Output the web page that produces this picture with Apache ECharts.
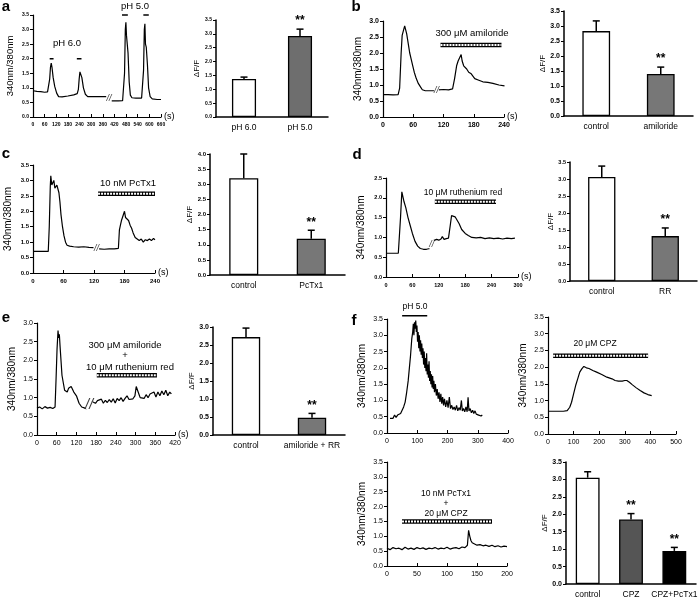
<!DOCTYPE html>
<html><head><meta charset="utf-8">
<script src="https://cdn.jsdelivr.net/npm/echarts@6/dist/echarts.min.js"></script>
<style>html,body{margin:0;padding:0;background:#fff}#c{width:700px;height:608px}</style>
</head><body><div id="c"></div>
<script>
// ---------- DATA ----------
// panel a trace
const aT1 = [0,20,40,60,75,82,86,90,94,98,104,112,122,132,150,180,210,228,234,238,242,246,252,260,270,282,300,330,360,378];
const aV1 = [0.9,0.88,0.87,0.85,0.86,0.9,1.3,1.7,1.85,1.7,1.35,1.05,0.82,0.7,0.69,0.72,0.76,0.8,0.95,1.3,1.55,1.6,1.35,1.0,0.78,0.7,0.7,0.7,0.7,0.7];
const aT2 = [405,420,440,462,468,472,476,479,482,486,490,496,502,510,530,560,566,570,574,577,580,584,590,596,604,615,640,660];
const aV2 = [0.55,0.55,0.55,0.56,0.58,1.5,3.0,3.25,2.8,2.75,2.2,1.2,0.75,0.66,0.65,0.65,0.66,1.6,3.0,3.2,2.5,2.4,1.8,1.0,0.7,0.62,0.6,0.6];
const aStim6 = [[86,106],[226,250]];
const aStim5 = [[459,489],[569,597]];
// panel b trace
const bT1 = [0,10,20,30,33,36,38,40,43,45,47,49,51,53,56,59,62,66,70,74,78,84,90,96,102];
const bV1 = [0.7,0.7,0.69,0.7,0.9,2.0,2.55,2.6,2.85,2.8,2.6,2.55,2.2,2.0,1.8,1.6,1.4,1.2,1.05,0.95,0.85,0.82,0.82,0.82,0.82];
const bT2 = [110,120,130,138,142,146,149,152,155,157,160,163,166,170,175,182,190,198,208,218,230,241];
const bV2 = [0.85,0.86,0.85,0.88,1.2,1.6,1.75,1.8,1.95,1.75,1.6,1.55,1.5,1.4,1.35,1.2,1.15,1.1,1.08,1.05,1.0,0.97];
const bStim = [114,235];
// panel c trace
const cT1 = [0,10,20,30,32,34,35,37,39,41,43,45,47,49,51,53,55,58,61,64,67,72,80,90,100,110,119];
const cV1 = [0.7,0.7,0.7,0.7,1.5,2.8,3.15,2.85,2.8,3.0,2.75,2.7,2.85,2.9,2.6,2.3,1.9,1.5,1.2,1.0,0.9,0.87,0.85,0.84,0.85,0.83,0.82];
const cT2 = [130,140,150,160,168,170,172,174,176,178,180,182,185,188,191,194,197,201,205,209,213,217,221,225,229,233,237,240];
const cV2 = [0.78,0.77,0.78,0.78,0.8,1.4,1.55,1.7,1.8,1.75,2.0,1.8,1.8,1.7,1.55,1.45,1.3,1.15,1.1,1.05,1.1,1.0,1.08,1.05,1.1,1.05,1.12,1.08];
const cStim = [128,240];
// panel d trace
const dT1 = [0,10,20,28,30,33,36,38,41,45,50,55,60,66,72,78,85,92,100];
const dV1 = [0.6,0.6,0.6,0.6,0.62,1.5,2.15,2.05,1.9,1.75,1.5,1.3,1.1,0.9,0.78,0.72,0.7,0.7,0.72];
const dT2 = [108,115,120,125,128,132,137,142,146,149,153,157,161,166,172,180,187,195,205,215,225,235,245,255,265,275,285,293];
const dV2 = [0.92,0.95,0.93,0.96,1.02,0.95,0.97,0.98,1.3,1.55,1.53,1.52,1.48,1.35,1.2,1.1,1.05,1.0,0.99,1.0,0.97,0.99,0.97,0.98,0.96,0.98,0.97,0.98];
const dStim = [111,250];
// panel e trace
const eT1 = [0,8,16,24,32,40,48,55,58,61,64,66,68,70,73,76,80,84,88,92,96,100,104,108,112,116,120,124,128,132,136,140,146,152];
const eV1 = [0.72,0.75,0.7,0.76,0.72,0.74,0.71,0.75,1.5,2.3,2.8,2.6,2.7,2.4,2.0,1.6,1.4,1.2,1.25,1.15,1.25,1.2,1.3,1.25,1.15,1.2,1.05,0.95,0.85,0.8,0.75,0.8,0.72,0.68];
const eT2 = [166,172,178,184,190,196,202,208,214,220,226,232,238,244,250,256,262,268,274,280,286,292,298,302,306,310,314,320,326,332,338,344,350,356,362,368,374,380,386,392,398,404,409];
const eV2 = [0.9,0.95,0.85,0.92,0.88,0.96,0.85,0.93,0.87,0.95,0.88,0.97,0.86,0.98,0.92,1.0,0.9,0.98,1.05,0.95,1.0,0.97,1.05,1.3,1.32,1.1,1.0,1.05,0.98,1.08,1.0,1.1,1.05,1.15,1.02,1.15,1.05,1.18,1.08,1.2,1.05,1.15,1.1];
const eStim = [182,365];
// panel f traces
const f1T = [10,15,20,25,30,35,40,45,50,55,60,65,70,74,78,82,85,87,89,91,93,95,97,99,101,103,105,107,109,111,113,115,117,119,121,123,125,127,129,131,133,135,137,139,141,143,145,147,149,151,153,155,157,160,163,166,169,172,175,178,181,184,187,190,194,198,202,206,210,214,218,222,226,230,234,238,242,246,249,253,257,261,265,268,271,275,279,283,287,291,295,299,303,307,311,315];
const f1V = [0.45,0.5,0.45,0.55,0.48,0.55,0.5,0.6,0.65,0.8,0.95,1.25,1.6,2.0,2.4,2.9,3.1,3.35,3.0,3.4,3.2,3.45,3.1,3.3,2.8,3.1,2.6,3.0,2.5,2.85,2.4,2.75,2.3,2.6,2.1,2.5,2.0,2.3,1.9,2.45,1.8,2.1,1.7,2.2,1.6,1.9,1.5,1.8,1.4,1.75,1.35,1.6,1.25,1.5,1.15,1.35,1.05,1.25,0.95,1.2,0.9,1.1,0.85,1.05,0.8,1.0,0.78,1.1,0.75,0.85,0.72,0.8,0.7,0.85,0.68,0.78,0.7,1.0,0.68,0.75,0.65,0.8,0.65,1.1,0.68,0.75,0.62,0.7,0.6,0.68,0.58,0.62,0.55,0.6,0.52,0.55];
const f1Stim = [50,133];
const f2T = [0,20,40,60,75,85,92,100,108,116,124,132,140,150,160,175,190,210,230,250,262,275,290,300,308,318,330,345,360,375,390,405];
const f2V = [0.68,0.68,0.68,0.68,0.7,0.8,0.95,1.2,1.45,1.65,1.85,1.95,2.02,1.98,1.96,1.9,1.85,1.78,1.7,1.65,1.6,1.58,1.58,1.6,1.6,1.55,1.47,1.38,1.3,1.23,1.18,1.15];
const f2Stim = [20,391];
const f3T = [0,5,10,15,20,25,30,35,40,45,50,55,60,65,70,75,80,85,90,95,100,105,110,115,120,125,130,134,136,138,140,142,145,150,155,160,165,170,175,180,185,190,195,200];
const f3V = [0.6,0.55,0.62,0.58,0.6,0.55,0.63,0.57,0.6,0.56,0.62,0.58,0.61,0.56,0.6,0.58,0.62,0.57,0.6,0.58,0.63,0.57,0.6,0.62,0.58,0.64,0.62,0.7,1.2,1.0,0.85,0.78,0.75,0.7,0.72,0.68,0.7,0.66,0.7,0.65,0.68,0.64,0.67,0.65];
const f3Stim = [25,175];
// bar charts
const aCats = ['pH 6.0','pH 5.0'];        const aMean = [1.37,2.92]; const aErr = [0.07,0.25]; const aSig = ['','**'];
const bCats = ['control','amiloride'];     const bMean = [2.83,1.40]; const bErr = [0.34,0.23]; const bSig = ['','**'];
const cCats = ['control','PcTx1'];         const cMean = [3.20,1.20]; const cErr = [0.80,0.28]; const cSig = ['','**'];
const dCats = ['control','RR'];            const dMean = [3.06,1.32]; const dErr = [0.32,0.24]; const dSig = ['','**'];
const eCats = ['control','amiloride + RR'];const eMean = [2.72,0.48]; const eErr = [0.25,0.12]; const eSig = ['','**'];
const fCats = ['control','CPZ','CPZ+PcTx1'];const fMean = [3.05,1.85,0.95]; const fErr = [0.17,0.17,0.10]; const fSig = ['','**','**'];

// ---------- BUILD ----------
const FONT = '"Liberation Sans", Arial, sans-serif';
const grids = [], xAxes = [], yAxes = [], series = [];
function pairs(T, V){ return T.map((t,k)=>[t, V[k]]); }

function addTrace(o){
  const i = grids.length;
  grids.push({left:o.rect[0], top:o.rect[1], width:o.rect[2], height:o.rect[3], containLabel:false, outerBoundsMode:'none'});
  xAxes.push({type:'value', gridIndex:i, min:0, max:o.xmax, interval:o.xint,
    name:o.sLabel ? '(s)' : '', nameLocation:'end', nameGap:3,
    nameTextStyle:{fontFamily:FONT, fontSize:9, color:'#000'},
    axisLine:{onZero:false, lineStyle:{color:'#000', width:1.2}},
    axisTick:{inside:true, length:3, lineStyle:{color:'#000', width:1}},
    axisLabel:{fontFamily:FONT, fontSize:o.tfs, fontWeight:o.tfw||'bold', color:'#000', margin:o.xm||5},
    splitLine:{show:false}});
  yAxes.push({type:'value', gridIndex:i, min:0, max:o.ymax, interval:0.5,
    name:'340nm/380nm', nameLocation:'middle', nameGap:o.ng, nameRotate:90,
    nameTextStyle:{fontFamily:FONT, fontSize:o.nfs||10, color:'#000'},
    axisLine:{show:true, lineStyle:{color:'#000', width:1.2}},
    axisTick:{show:true, length:3, lineStyle:{color:'#000', width:1}},
    axisLabel:{fontFamily:FONT, fontSize:o.tfs, fontWeight:o.tfw||'bold', color:'#000', margin:4, formatter:v=>v.toFixed(1)},
    splitLine:{show:false}});
  o.segs.forEach(s=>series.push({type:'line', xAxisIndex:i, yAxisIndex:i, data:pairs(s[0],s[1]), showSymbol:false, symbol:'none', silent:true,
    lineStyle:{color:'#000', width:1.2}, z:3}));
  (o.stims||[]).forEach(st=>{
    const data = [[st[0], st[2]],[st[1], st[2]]];
    if (st[3]==='plain') {
      series.push({type:'line', xAxisIndex:i, yAxisIndex:i, data, symbol:'none', clip:false, silent:true, lineStyle:{color:'#000', width:1.5}, z:4});
    } else {
      series.push({type:'line', xAxisIndex:i, yAxisIndex:i, data, symbol:'none', clip:false, silent:true, lineStyle:{color:'#000', width:4.5, cap:'butt'}, z:4});
      series.push({type:'line', xAxisIndex:i, yAxisIndex:i, data, symbol:'none', clip:false, silent:true, lineStyle:{color:'#fff', width:2, type:[2,1], cap:'butt'}, z:5});
    }
  });
  if (o.brk) series.push({type:'scatter', xAxisIndex:i, yAxisIndex:i, data:[o.brk], symbolSize:0, silent:true, z:6,
    label:{show:true, position:'inside', formatter:'//', fontFamily:FONT, fontStyle:'italic', fontSize:o.brkFs||9, color:'#000', backgroundColor:'#fff', padding:[0,0]}});
  return i;
}

function addBar(o){
  const i = grids.length;
  grids.push({left:o.rect[0], top:o.rect[1], width:o.rect[2], height:o.rect[3], containLabel:false, outerBoundsMode:'none'});
  xAxes.push({type:'category', gridIndex:i, data:o.cats,
    axisLine:{lineStyle:{color:'#000', width:1.5}}, axisTick:{show:false},
    axisLabel:{fontFamily:FONT, fontSize:8.5, color:'#000', margin:o.xm||6, interval:0}});
  yAxes.push({type:'value', gridIndex:i, min:0, max:o.ymax, interval:0.5,
    name:'\u0394F/F', nameLocation:'middle', nameGap:o.ng, nameRotate:90,
    nameTextStyle:{fontFamily:FONT, fontSize:8, color:'#000'},
    axisLine:{show:true, lineStyle:{color:'#000', width:1.5}},
    axisTick:{show:true, length:3, lineStyle:{color:'#000', width:1}},
    axisLabel:{fontFamily:FONT, fontSize:o.tfs, fontWeight:'bold', color:'#000', margin:4, formatter:v=>v.toFixed(1)},
    splitLine:{show:false}});
  series.push({type:'bar', xAxisIndex:i, yAxisIndex:i, barWidth:o.bw||'43%', silent:true,
    data:o.mean.map((m,k)=>({value:m, itemStyle:{color:o.colors[k], borderColor:'#000', borderWidth:1.3}})), z:3});
  const sig = o.sig;
  series.push({type:'custom', xAxisIndex:i, yAxisIndex:i, silent:true, z:4,
    data:o.mean.map((m,k)=>[k, m, o.err[k]]),
    renderItem:(params, api)=>{
      const k = api.value(0), m = api.value(1), e = api.value(2);
      const p0 = api.coord([k, m]), p1 = api.coord([k, m+e]);
      const ch = [
        {type:'line', shape:{x1:p0[0], y1:p0[1], x2:p1[0], y2:p1[1]}, style:{stroke:'#000', lineWidth:1.5}},
        {type:'line', shape:{x1:p1[0]-3.5, y1:p1[1], x2:p1[0]+3.5, y2:p1[1]}, style:{stroke:'#000', lineWidth:1.5}}
      ];
      if (sig[k]) ch.push({type:'text', style:{text:sig[k], x:p1[0], y:p1[1]-2, align:'center', verticalAlign:'bottom',
        font:'bold 12px ' + FONT, fill:'#000'}});
      return {type:'group', children:ch};
    }});
  return i;
}

addTrace({rect:[33,15,128,102], xmax:660, xint:60, ymax:3.5, tfs:5, ng:18, nfs:9.5, sLabel:true,
  segs:[[aT1,aV1],[aT2,aV2]], brk:[392,0.62],
  stims:[[aStim6[0][0],aStim6[0][1],2.0,'plain'],[aStim6[1][0],aStim6[1][1],2.0,'plain'],[aStim5[0][0],aStim5[0][1],3.5,'plain'],[aStim5[1][0],aStim5[1][1],3.5,'plain']]});
addBar({rect:[216,20,112,97], ymax:3.5, tfs:5, ng:13, cats:aCats, mean:aMean, err:aErr, sig:aSig, colors:['#fff','#6e6e6e']});

addTrace({rect:[383,21,121,96], xmax:240, xint:60, ymax:3.0, tfs:7, ng:20, sLabel:true,
  segs:[[bT1,bV1],[bT2,bV2]], brk:[106,0.84], stims:[[bStim[0],bStim[1],2.25]]});
addBar({rect:[564,11,129,105], ymax:3.5, tfs:7, ng:17, cats:bCats, mean:bMean, err:bErr, sig:bSig, colors:['#fff','#777']});

addTrace({rect:[33,165,122,108], xmax:240, xint:60, ymax:3.5, tfs:6, ng:20, sLabel:true,
  segs:[[cT1,cV1],[cT2,cV2]], brk:[125,0.8], stims:[[cStim[0],cStim[1],2.57]]});
addBar({rect:[210,154,135,121], ymax:4.0, tfs:6, ng:16, cats:cCats, mean:cMean, err:cErr, sig:cSig, colors:['#fff','#777']});

addTrace({rect:[386,178,132,99], xmax:300, xint:60, ymax:2.5, tfs:5.5, ng:20, sLabel:true,
  segs:[[dT1,dV1],[dT2,dV2]], brk:[104,0.82], stims:[[dStim[0],dStim[1],1.9]]});
addBar({rect:[570,162,127,119], ymax:3.5, tfs:5.5, ng:15, cats:dCats, mean:dMean, err:dErr, sig:dSig, colors:['#fff','#777']});

addTrace({rect:[37,323,138,112], xmax:420, xint:60, ymax:3.0, tfs:7, tfw:'normal', ng:20, sLabel:true,
  segs:[[eT1,eV1],[eT2,eV2]], brk:[159,0.8], brkFs:14, stims:[[eStim[0],eStim[1],1.6]]});
addBar({rect:[213,327,132,108], ymax:3.0, tfs:7, ng:17, cats:eCats, mean:eMean, err:eErr, sig:eSig, colors:['#fff','#777']});

addTrace({rect:[387,319,121,114], xmax:400, xint:100, ymax:3.5, tfs:7, tfw:'normal', ng:20,
  segs:[[f1T,f1V]], stims:[[f1Stim[0],f1Stim[1],3.6,'plain']]});
addTrace({rect:[548,317,128,117], xmax:500, xint:100, ymax:3.5, tfs:7, tfw:'normal', ng:20,
  segs:[[f2T,f2V]], stims:[[f2Stim[0],f2Stim[1],2.34]]});
addTrace({rect:[387,462,120,104], xmax:200, xint:50, ymax:3.5, tfs:7, tfw:'normal', ng:20,
  segs:[[f3T,f3V]], stims:[[f3Stim[0],f3Stim[1],1.5]]});
addBar({rect:[566,462,130,122], ymax:3.5, tfs:7, ng:17, bw:'55%', cats:fCats, mean:fMean, err:fErr, sig:fSig, colors:['#fff','#555','#000']});

function txt(s, x, y, fs, extra){ return Object.assign({type:'text', x, y, silent:true, style:{text:s, align:'center', verticalAlign:'middle', font:(fs)+'px '+FONT, fill:'#000'}}, extra||{}); }
function letter(s, x, y){ return {type:'text', x, y, silent:true, style:{text:s, align:'center', verticalAlign:'middle', font:'bold 15px '+FONT, fill:'#000'}}; }
const graphic = [
  letter('a',6,7), letter('b',356,7), letter('c',6,154), letter('d',357,155), letter('e',6,318), letter('f',354,321),
  txt('pH 6.0',67,43,9.5), txt('pH 5.0',135,6,9.5),
  txt('300 \u03bcM amiloride',472,33,9.5),
  txt('10 nM PcTx1',128,183,9.5),
  txt('10 \u03bcM ruthenium red',463,193,8.5),
  txt('300 \u03bcM amiloride',125,345,9.5), txt('+',125,355,9.5), txt('10 \u03bcM ruthenium red',130,367,9.5),
  txt('pH 5.0',415,307,8.5),
  txt('20 \u03bcM CPZ',595,344,8.5),
  txt('10 nM PcTx1',446,494,8.5), txt('+',446,504,8.5), txt('20 \u03bcM CPZ',446,514,8.5)
];

const chart = echarts.init(document.getElementById('c'), null, {renderer:'canvas'});
chart.setOption({animation:false, backgroundColor:'#fff', grid:grids, xAxis:xAxes, yAxis:yAxes, series, graphic});
</script></body></html>
